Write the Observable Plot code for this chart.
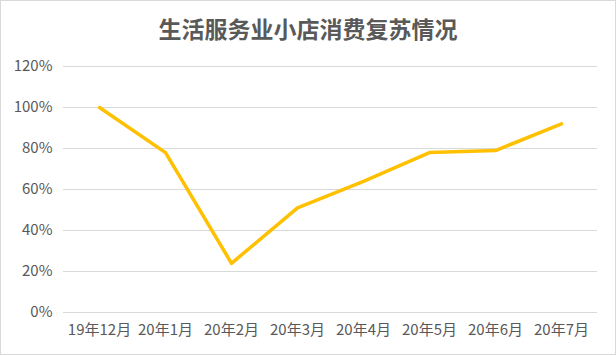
<!DOCTYPE html>
<html><head><meta charset="utf-8">
<script src="https://cdn.jsdelivr.net/npm/d3@7"></script>
<script src="https://cdn.jsdelivr.net/npm/@observablehq/plot@0.6"></script>
<style>
body{margin:0;background:#fff;font-family:"Noto Sans CJK SC","Noto Sans",sans-serif;}
#wrap{position:relative;width:616px;height:355px;overflow:hidden;background:#fff;}
#frame{position:absolute;left:0;top:0;width:616px;height:355px;box-sizing:border-box;border:1px solid #d9d9d9;pointer-events:none;}
#title{position:absolute;left:0;top:12px;width:616px;text-align:center;font-size:23px;font-weight:bold;color:#595959;line-height:32px;}
#chart{position:absolute;left:0;top:50px;}
</style></head>
<body>
<div id="wrap"><div id="title">生活服务业小店消费复苏情况</div><div id="chart"></div><div id="frame"></div></div>
<script>
const months = ["19年12月","20年1月","20年2月","20年3月","20年4月","20年5月","20年6月","20年7月"];
const recovery = [1.00, 0.78, 0.24, 0.51, 0.64, 0.78, 0.79, 0.92];
const yTicks = [0, 0.2, 0.4, 0.6, 0.8, 1.0, 1.2];
const data = months.map((m, i) => ({month: m, value: recovery[i]}));

const chart = Plot.plot({
  width: 616,
  height: 300,
  marginLeft: 63,
  marginRight: 19,
  marginTop: 16,
  marginBottom: 38,
  style: {fontFamily: '"Noto Sans CJK SC","Noto Sans",sans-serif', fontSize: "15px", color: "#595959", background: "transparent"},
  x: {type: "point", domain: months, padding: 0.5, label: null},
  y: {domain: [0, 1.2], label: null},
  marks: [
    Plot.gridY(yTicks, {stroke: "#d9d9d9", strokeOpacity: 1}),
    Plot.axisY(yTicks, {tickSize: 0, tickPadding: 11, fontSize: 15, tickFormat: d => Math.round(d * 100) + "%", label: null, fill: "#595959"}),
    Plot.axisX({tickSize: 0, tickPadding: 12, fontSize: 15, label: null, fill: "#595959"}),
    Plot.line(data, {x: "month", y: "value", stroke: "#FFC000", strokeWidth: 3.5, strokeLinejoin: "round", strokeLinecap: "round"})
  ]
});
document.getElementById("chart").appendChild(chart);
</script>
</body></html>
